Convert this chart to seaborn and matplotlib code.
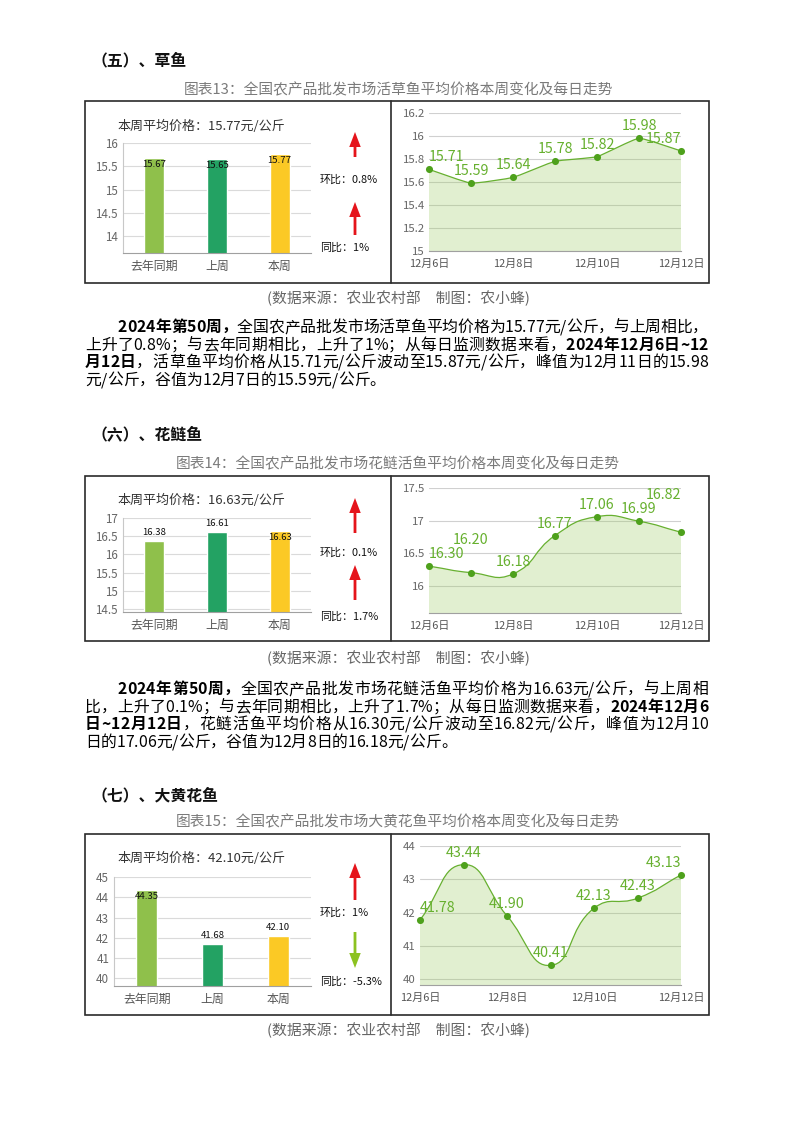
import numpy as np
import pandas as pd
import matplotlib
matplotlib.use("Agg")
import matplotlib.pyplot as plt
import seaborn as sns
from matplotlib.path import Path
from matplotlib.patches import PathPatch, Rectangle, FancyArrow

sns.set_theme(style="white")
plt.rcParams["font.family"] = ["Noto Sans CJK SC", "DejaVu Sans"]
plt.rcParams["axes.unicode_minus"] = False

W, H = 794, 1122

# ---------------- data ----------------
headings = ["（五）、草鱼", "（六）、花鲢鱼", "（七）、大黄花鱼"]
captions = ["图表13：全国农产品批发市场活草鱼平均价格本周变化及每日走势",
            "图表14：全国农产品批发市场花鲢活鱼平均价格本周变化及每日走势",
            "图表15：全国农产品批发市场大黄花鱼平均价格本周变化及每日走势"]
source_text = "(数据来源：农业农村部\u3000制图：农小蜂)"

bar_categories = ["去年同期", "上周", "本周"]
bar_caoyu = [15.67, 15.65, 15.77]
bar_hualian = [16.38, 16.61, 16.63]
bar_dahuang = [44.35, 41.68, 42.10]
avg_price = ["15.77", "16.63", "42.10"]
huanbi = [0.8, 0.1, 1]
tongbi = [1, 1.7, -5.3]

days = ["12月6日", "12月7日", "12月8日", "12月9日", "12月10日", "12月11日", "12月12日"]
daily_caoyu = [15.71, 15.59, 15.64, 15.78, 15.82, 15.98, 15.87]
daily_hualian = [16.30, 16.20, 16.18, 16.77, 17.06, 16.99, 16.82]
daily_dahuang = [41.78, 43.44, 41.90, 40.41, 42.13, 42.43, 43.13]

bar_ticks = [[14, 14.5, 15, 15.5, 16], [14.5, 15, 15.5, 16, 16.5, 17], [40, 41, 42, 43, 44, 45]]
line_ticks = [[15, 15.2, 15.4, 15.6, 15.8, 16, 16.2], [16, 16.5, 17, 17.5], [40, 41, 42, 43, 44]]

para1 = [[("2024年第50周，", True), ("全国农产品批发市场活草鱼平均价格为15.77元/公斤，与上周相比，", False)],
         [("上升了0.8%；与去年同期相比，上升了1%；从每日监测数据来看，", False), ("2024年12月6日~12", True)],
         [("月12日", True), ("，活草鱼平均价格从15.71元/公斤波动至15.87元/公斤，峰值为12月11日的15.98", False)],
         [("元/公斤，谷值为12月7日的15.59元/公斤。", False)]]
para2 = [[("2024年第50周，", True), ("全国农产品批发市场花鲢活鱼平均价格为16.63元/公斤，与上周相", False)],
         [("比，上升了0.1%；与去年同期相比，上升了1.7%；从每日监测数据来看，", False), ("2024年12月6", True)],
         [("日~12月12日", True), ("，花鲢活鱼平均价格从16.30元/公斤波动至16.82元/公斤，峰值为12月10", False)],
         [("日的17.06元/公斤，谷值为12月8日的16.18元/公斤。", False)]]

bars_all = [bar_caoyu, bar_hualian, bar_dahuang]
daily_all = [daily_caoyu, daily_hualian, daily_dahuang]

# ---------------- layout / style ----------------
bar_colors = ["#8fc04b", "#23a263", "#fbc925"]
line_color = "#67b030"
marker_color = "#4ea11c"
label_green = "#66b02e"

layout = [
    dict(head_y=60, cap_y=90, box=(101, 283), bar_ax=(123, 143, 311, 253), bar_ylim=(13.64, 16),
         line_ax=(429, 113, 681, 251), line_ylim=(15, 16.2), title_y=126,
         arrows=[(132, 157), (202, 235)], arrow_lab=[180, 248], src_y=298,
         bar_lab=["in", "in", "in"], lab_extra=[0, 0, 0, 0, 0, 0, 0], smooth=0.12),
    dict(head_y=434, cap_y=464, box=(476, 641), bar_ax=(123, 518, 311, 612), bar_ylim=(14.42, 17),
         line_ax=(429, 488, 681, 613), line_ylim=(15.58, 17.5), title_y=500,
         arrows=[(498, 533), (565, 600)], arrow_lab=[553, 617], src_y=658,
         bar_lab=["up", "up", "in"], lab_extra=[0, 21, 0, 0, 0, 0, 25], smooth=0.5),
    dict(head_y=795, cap_y=822, box=(834, 1015), bar_ax=(114, 877, 311, 986), bar_ylim=(39.62, 45),
         line_ax=(420, 846, 681, 985), line_ylim=(39.82, 44), title_y=858,
         arrows=[(863, 900), (932, 968)], arrow_lab=[913, 982], src_y=1030,
         bar_lab=["in", "up", "up"], lab_extra=[0, 0, 0, 0, 0, 0, 0], smooth=0.5),
]
para_y = [[326, 344, 361, 379], [688, 706, 723, 741]]

fig = plt.figure(figsize=(W / 100, H / 100), dpi=100)
fig.patch.set_facecolor("white")

ax_o = fig.add_axes([0, 0, 1, 1])
ax_o.set_xlim(0, W)
ax_o.set_ylim(H, 0)
ax_o.axis("off")
ax_o.set_zorder(0)


def rect(x0, y0, x1, y1):
    return [x0 / W, 1 - y1 / H, (x1 - x0) / W, (y1 - y0) / H]


def px2pt(p):
    return p * 0.72


def smooth_path(ax, xs, ys, smooth):
    pts = ax.transData.transform(np.column_stack([xs, ys]))
    n = len(pts)
    cps = []
    for i in range(n):
        prev = pts[i - 1] if i > 0 else pts[i]
        nxt = pts[i + 1] if i < n - 1 else pts[i]
        v = nxt - prev
        d0 = np.hypot(*(pts[i] - prev))
        d1 = np.hypot(*(nxt - pts[i]))
        s = d0 + d1
        r1 = d1 / s if s > 0 else 0.5
        cin = pts[i] - v * smooth * (1 - r1)
        cout = pts[i] + v * smooth * r1
        cps.append((cin, cout))
    verts = [pts[0]]
    codes = [Path.MOVETO]
    for i in range(n - 1):
        verts += [cps[i][1], cps[i + 1][0], pts[i + 1]]
        codes += [Path.CURVE4] * 3
    inv = ax.transData.inverted()
    return inv.transform(np.array(verts)), codes


for k in range(3):
    L = layout[k]
    ax_o.text(92, L["head_y"], headings[k], fontsize=11.4, fontweight="bold", color="#111",
              ha="left", va="center")
    ax_o.text(398, L["cap_y"], captions[k], fontsize=10.6, color="#7a7a7a", ha="center", va="center")
    ax_o.text(398, L["src_y"], source_text, fontsize=10.7, color="#666666", ha="center", va="center")
    y0, y1 = L["box"]
    ax_o.add_patch(Rectangle((85, y0), 624, y1 - y0, fill=False, lw=1.2, ec="#2a2a2a"))
    ax_o.plot([391, 391], [y0, y1], color="#2a2a2a", lw=1.2)

    # ---- bar chart ----
    ax = fig.add_axes(rect(*L["bar_ax"]))
    ax.set_facecolor("none")
    vals = bars_all[k]
    df = pd.DataFrame({"cat": bar_categories, "val": vals})
    sns.barplot(data=df, x="cat", y="val", hue="cat", palette=bar_colors, width=0.32,
                saturation=1, ax=ax, legend=False, zorder=2)
    ax.set_xlim(-0.5, 2.5)
    ax.set_ylim(*L["bar_ylim"])
    ax.set_yticks(bar_ticks[k])
    ax.set_yticklabels([f"{t:g}" for t in bar_ticks[k]])
    ax.yaxis.grid(True, color="#dadada", lw=0.8)
    ax.set_axisbelow(True)
    ax.set_xlabel("")
    ax.set_ylabel("")
    for s in ["top", "right"]:
        ax.spines[s].set_visible(False)
    ax.spines["left"].set_color("#c8c8c8")
    ax.spines["bottom"].set_color("#a0a0a0")
    ax.spines["left"].set_linewidth(0.8)
    ax.spines["bottom"].set_linewidth(0.8)
    ax.tick_params(axis="y", length=0, pad=3.5, labelsize=8.4, labelcolor="#666666")
    ax.tick_params(axis="x", which="major", length=0, pad=5, labelsize=8.6, labelcolor="#555555")
    ax.set_xticks([-0.5, 0.5, 1.5, 2.5], minor=True)
    ax.tick_params(axis="x", which="minor", length=3, color="#a0a0a0", width=0.8)
    for i, v in enumerate(vals):
        off = -6.5 if L["bar_lab"][i] == "in" else 8.5
        ax.annotate(f"{v:.2f}", (i, v), xytext=(0, px2pt(off)), textcoords="offset points",
                    ha="center", va="center", fontsize=6.9, color="#111111")
    ax_o.text(117, L["title_y"], f"本周平均价格：{avg_price[k]}元/公斤", fontsize=9.4,
              color="#333333", ha="left", va="center")

    # ---- arrows ----
    for j, (val, name) in enumerate([(huanbi[k], "环比"), (tongbi[k], "同比")]):
        top, bot = L["arrows"][j]
        if val >= 0:
            col, ys, dy = "#e5141b", bot, top - bot
        else:
            col, ys, dy = "#8cc220", top, bot - top
        ax_o.add_patch(FancyArrow(355, ys, 0, dy, width=2.8, head_width=11.5, head_length=15,
                                  length_includes_head=True, color=col, lw=0))
        ax_o.text(320, L["arrow_lab"][j], f"{name}：{val:g}%", fontsize=7.9, color="#111111",
                  ha="left", va="center")

    # ---- line chart ----
    ax2 = fig.add_axes(rect(*L["line_ax"]))
    ax2.set_facecolor("none")
    yv = daily_all[k]
    xs = np.arange(len(days))
    ax2.set_xlim(0, len(days) - 1)
    ax2.set_ylim(*L["line_ylim"])
    ax2.set_yticks(line_ticks[k])
    ax2.set_yticklabels([f"{t:g}" for t in line_ticks[k]])
    ax2.yaxis.grid(True, color="#d0d0d0", lw=0.8)
    ax2.set_axisbelow(True)
    for s in ["top", "right", "left"]:
        ax2.spines[s].set_visible(False)
    ax2.spines["bottom"].set_color("#a0a0a0")
    ax2.spines["bottom"].set_linewidth(0.8)
    ax2.set_xticks(xs)
    ax2.set_xticklabels([d if i % 2 == 0 else "" for i, d in enumerate(days)])
    ax2.tick_params(axis="y", length=0, pad=3, labelsize=8.2, labelcolor="#666666")
    ax2.tick_params(axis="x", length=3.5, width=0.8, color="#a0a0a0", pad=2.5, labelsize=7.9,
                    labelcolor="#555555")

    verts, codes = smooth_path(ax2, xs, yv, L["smooth"])
    ybase = L["line_ylim"][0]
    area_verts = np.vstack([verts, [[xs[-1], ybase], [xs[0], ybase], verts[0]]])
    area_codes = codes + [Path.LINETO, Path.LINETO, Path.CLOSEPOLY]
    ax2.add_patch(PathPatch(Path(area_verts, area_codes), facecolor="#9ccc65", alpha=0.3,
                            edgecolor="none", zorder=1))
    ax2.add_patch(PathPatch(Path(verts, codes), facecolor="none", edgecolor=line_color,
                            lw=0.9, zorder=3))
    sns.scatterplot(x=xs, y=yv, ax=ax2, color=marker_color, s=26, linewidth=0, zorder=5,
                    clip_on=False, legend=False)
    for i, v in enumerate(yv):
        ha = "left" if i == 0 else ("right" if i == len(yv) - 1 else "center")
        ax2.annotate(f"{v:.2f}", (i, v), xytext=(0, px2pt(12 + L["lab_extra"][i])),
                     textcoords="offset points", ha=ha, va="center", fontsize=10.3,
                     color=label_green, annotation_clip=False)

# ---------------- paragraphs ----------------
renderer = fig.canvas.get_renderer()
_cache = {}
BODY = 11.4


def advance(ch, bold):
    key = (ch, bold)
    if key not in _cache:
        fw = "bold" if bold else "normal"
        t1 = ax_o.text(0, 0, "中" + ch + "中", fontsize=BODY, fontweight=fw)
        t2 = ax_o.text(0, 0, "中中", fontsize=BODY, fontweight=fw)
        w = t1.get_window_extent(renderer).width - t2.get_window_extent(renderer).width
        t1.remove()
        t2.remove()
        _cache[key] = w
    return _cache[key]


def can_stretch(a, b):
    if a == "/" or b == "/":
        return False
    if ord(a) < 128 and ord(b) < 128:
        return False
    return True


def draw_para(lines, ys, x_first=118, x_left=85, x_right=708):
    for li, (segs, yc) in enumerate(zip(lines, ys)):
        x0 = x_first if li == 0 else x_left
        chars = [(c, b) for txt, b in segs for c in txt]
        widths = [advance(c, b) for c, b in chars]
        total = sum(widths)
        justify = li < len(lines) - 1
        flags = [can_stretch(chars[i][0], chars[i + 1][0]) for i in range(len(chars) - 1)]
        nst = max(1, sum(flags))
        gap = (x_right - x0 - total) / nst if justify else 0
        x = x0
        for i, ((c, b), w) in enumerate(zip(chars, widths)):
            ax_o.text(x, yc + 6, c, fontsize=BODY, fontweight="bold" if b else "normal",
                      color="#000000", ha="left", va="baseline")
            x += w
            if i < len(flags) and flags[i]:
                x += gap


draw_para(para1, para_y[0])
draw_para(para2, para_y[1])

fig.savefig("out.png", dpi=100, facecolor="white")
